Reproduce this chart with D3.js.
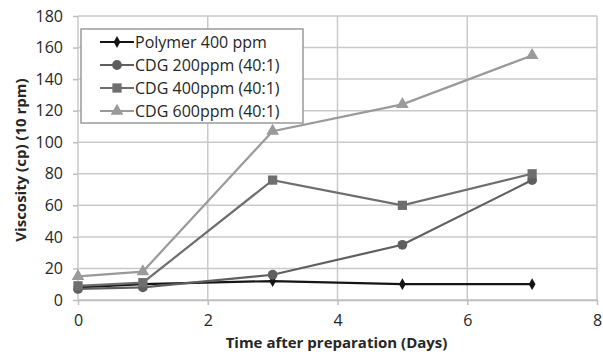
<!DOCTYPE html>
<meta charset="utf-8">
<style>
  body { margin: 0; background: #fff; }
  svg text { font-family: "Open Sans", "DejaVu Sans", sans-serif; fill: #262626; }
  .grid line { stroke: #c9c9c9; stroke-width: 1.5; }
  .axis path, .axis line { stroke: #bdbdbd; stroke-width: 1.5; }
  .axis text { font-size: 16px; }
  .series .ln { fill: none; stroke-width: 2.2; }
</style>
<svg width="603" height="354"></svg>
<script src="https://cdn.jsdelivr.net/npm/d3@7"></script>
<script>
var days = [0, 1, 3, 5, 7];
var polymer400 = [8, 10, 12, 10, 10];
var cdg200 = [7, 8, 16, 35, 76];
var cdg400 = [9, 11, 76, 60, 80];
var cdg600 = [15, 18, 107, 124, 155];
var xTicks = [0, 2, 4, 6, 8];
var yTicks = [0, 20, 40, 60, 80, 100, 120, 140, 160, 180];

var series = [
  {name: "Polymer 400 ppm", values: polymer400, color: "#151515", marker: "diamond"},
  {name: "CDG 200ppm (40:1)", values: cdg200, color: "#5f5f5f", marker: "circle"},
  {name: "CDG 400ppm (40:1)", values: cdg400, color: "#6e6e6e", marker: "square"},
  {name: "CDG 600ppm (40:1)", values: cdg600, color: "#9a9a9a", marker: "triangle"}
];

var svg = d3.select("svg"),
  margin = {top: 16, right: 6, bottom: 54, left: 78},
  width = +svg.attr("width") - margin.left - margin.right,
  height = +svg.attr("height") - margin.top - margin.bottom;

var x = d3.scaleLinear().domain([0, 8]).range([0, width]),
  y = d3.scaleLinear().domain([0, 180]).range([height, 0]);

var g = svg.append("g")
  .attr("transform", "translate(" + margin.left + "," + margin.top + ")");

// gridlines
g.append("g").attr("class", "grid")
  .selectAll("line.h").data(yTicks).enter().append("line")
  .attr("x1", 0).attr("x2", width)
  .attr("y1", function(d) { return y(d); }).attr("y2", function(d) { return y(d); });
g.append("g").attr("class", "grid")
  .selectAll("line.v").data(xTicks).enter().append("line")
  .attr("y1", 0).attr("y2", height)
  .attr("x1", function(d) { return x(d); }).attr("x2", function(d) { return x(d); });

g.append("g")
  .attr("class", "axis axis--x")
  .attr("transform", "translate(0," + height + ")")
  .call(d3.axisBottom(x).tickValues(xTicks).tickSize(5).tickPadding(10).tickSizeOuter(0));

g.append("g")
  .attr("class", "axis axis--y")
  .call(d3.axisLeft(y).tickValues(yTicks).tickSize(5).tickPadding(10).tickSizeOuter(0));

g.selectAll(".axis--y .domain").remove();

var line = d3.line()
  .x(function(d, i) { return x(days[i]); })
  .y(function(d) { return y(d); });

var symbols = {
  diamond: d3.symbol().type(d3.symbolDiamond).size(40),
  circle: d3.symbol().type(d3.symbolCircle).size(75),
  square: d3.symbol().type(d3.symbolSquare).size(85),
  triangle: d3.symbol().type(d3.symbolTriangle).size(70)
};

var sg = g.selectAll(".series").data(series).enter().append("g").attr("class", "series");
sg.append("path")
  .attr("class", "ln")
  .attr("stroke", function(d) { return d.color; })
  .attr("d", function(d) { return line(d.values); });
sg.each(function(s) {
  d3.select(this).selectAll(".pt").data(s.values).enter().append("path")
    .attr("class", "pt")
    .attr("fill", s.color)
    .attr("transform", function(d, i) { return "translate(" + x(days[i]) + "," + y(d) + ")"; })
    .attr("d", function() { return symbols[s.marker](); });
});

// legend
var legend = svg.append("g").attr("transform", "translate(81,29)");
legend.append("rect")
  .attr("width", 222).attr("height", 94)
  .attr("fill", "#fff").attr("stroke", "#9a9a9a").attr("stroke-width", 1.5);
var li = legend.selectAll(".li").data(series).enter().append("g")
  .attr("transform", function(d, i) { return "translate(0," + (13 + i * 23) + ")"; });
li.append("line")
  .attr("x1", 19).attr("x2", 53)
  .attr("stroke", function(d) { return d.color; }).attr("stroke-width", 2.2);
li.append("path")
  .attr("transform", "translate(36,0)")
  .attr("fill", function(d) { return d.color; })
  .attr("d", function(d) { return symbols[d.marker](); });
li.append("text")
  .attr("x", 54).attr("dy", "0.35em")
  .style("font-size", "16px")
  .text(function(d) { return d.name; });

svg.append("text")
  .attr("x", margin.left + x(4) - 1).attr("y", 348)
  .attr("text-anchor", "middle")
  .style("font-size", "15px").style("font-weight", "bold")
  .text("Time after preparation (Days)");

svg.append("text")
  .attr("transform", "translate(26,160) rotate(-90)")
  .attr("text-anchor", "middle")
  .style("font-size", "15px").style("font-weight", "bold")
  .text("Viscosity (cp) (10 rpm)");
</script>
